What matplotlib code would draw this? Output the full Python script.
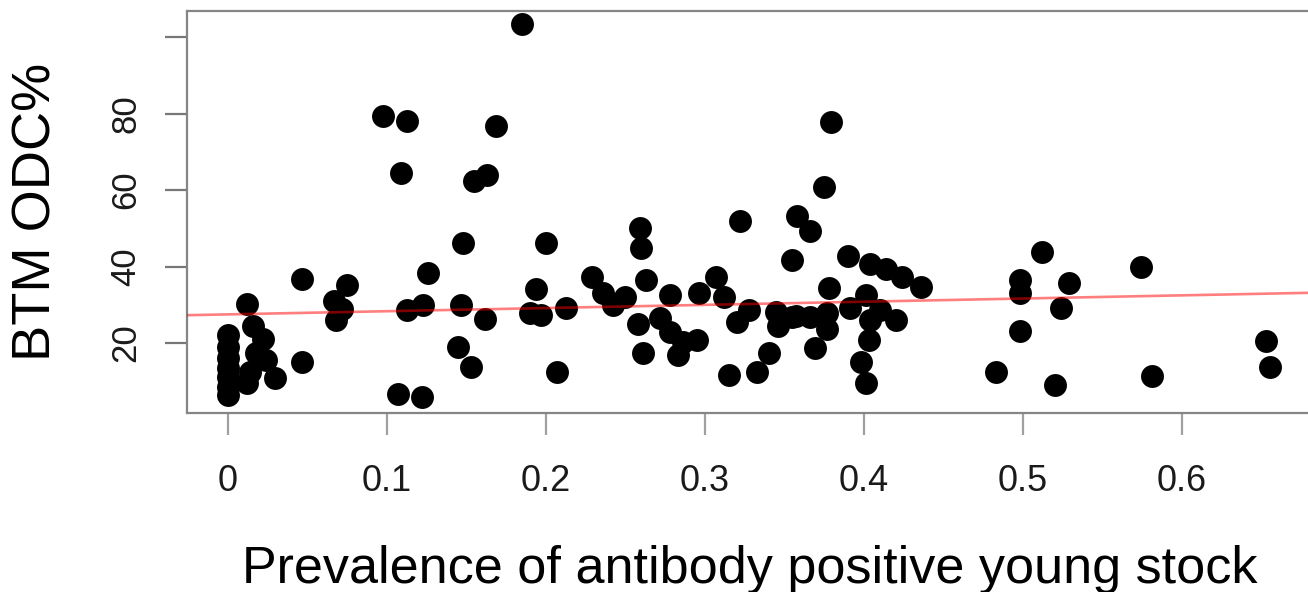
import matplotlib
matplotlib.use("Agg")
import matplotlib.pyplot as plt
import numpy as np

plt.rcParams['font.family'] = ['Liberation Sans', 'DejaVu Sans']

# prevalence of antibody positive young stock (x) and BTM ODC% (y)
prevalence = [
    0, 0, 0, 0, 0, 0, 0,
    0.012, 0.016, 0.022, 0.018, 0.024, 0.014, 0.012, 0.030,
    0.047, 0.047,
    0.075, 0.067, 0.072, 0.068,
    0.098, 0.113, 0.109, 0.107, 0.122,
    0.113, 0.123, 0.126,
    0.147, 0.148, 0.145, 0.153, 0.155, 0.163, 0.162, 0.169,
    0.185, 0.194, 0.190, 0.197, 0.200, 0.207, 0.213,
    0.229, 0.236, 0.242, 0.250, 0.263, 0.259, 0.260, 0.258, 0.261, 0.272,
    0.278, 0.278, 0.283, 0.286, 0.295, 0.296, 0.307, 0.312, 0.315, 0.320,
    0.322, 0.328, 0.333, 0.340, 0.345, 0.346,
    0.355, 0.358, 0.366, 0.355, 0.357, 0.366, 0.377, 0.369, 0.378, 0.379,
    0.375, 0.377,
    0.390, 0.391, 0.401, 0.404, 0.410, 0.420, 0.403, 0.398, 0.401,
    0.404, 0.414, 0.424, 0.436,
    0.498, 0.498, 0.512, 0.529, 0.524, 0.498, 0.483, 0.520,
    0.574, 0.581, 0.653, 0.655,
]
btm_odc = [
    22.0, 19.0, 16.0, 13.5, 11.0, 8.5, 6.5,
    30.2, 24.5, 21.0, 17.5, 15.5, 12.5, 9.5, 10.8,
    36.8, 15.0,
    35.2, 31.1, 29.0, 26.0,
    79.3, 78.1, 64.5, 6.6, 5.8,
    28.6, 29.9, 38.4,
    29.9, 46.1, 19.0, 13.8, 62.4, 63.9, 26.3, 76.9,
    103.4, 34.2, 27.8, 27.3, 46.2, 12.5, 29.1,
    37.3, 33.0, 29.9, 32.1, 36.5, 50.1, 44.8, 25.1, 17.3, 26.5,
    32.5, 23.0, 16.9, 20.3, 20.8, 33.0, 37.3, 32.1, 11.6, 25.6,
    52.0, 28.6, 12.5, 17.3, 28.0, 24.5,
    41.7, 53.2, 49.3, 26.9, 27.0, 26.9, 27.8, 18.6, 34.3, 77.7,
    60.7, 23.8,
    42.7, 29.1, 32.5, 26.0, 28.6, 26.0, 20.8, 15.1, 9.5,
    40.8, 39.5, 37.3, 34.7,
    36.5, 33.0, 43.7, 35.6, 29.3, 23.1, 12.5, 9.0,
    39.9, 11.4, 20.6, 13.8,
]

# fitted regression line (red)
fit_intercept = 27.5
fit_slope = 8.3

x_ticks = [0, 0.1, 0.2, 0.3, 0.4, 0.5, 0.6]
x_labels = ["0", "0.1", "0.2", "0.3", "0.4", "0.5", "0.6"]
y_ticks = [20, 40, 60, 80, 100]
y_labels = ["20", "40", "60", "80", ""]

fig = plt.figure(figsize=(13.08, 5.92), dpi=100)
ax = fig.add_axes([187/1308, 179/592, (1319-187)/1308, (413-10.5)/592])

ax.plot(prevalence, btm_odc, 'o', color='black', markersize=16.5, markeredgewidth=0, zorder=2)

xlim = (-0.0255, 0.686)
xl = np.array(xlim)
ax.plot(xl, fit_intercept + fit_slope*xl, color=(1, 0, 0, 0.5), linewidth=1.9, zorder=3)

ax.set_xlim(*xlim)
ax.set_ylim(1.7, 107.0)

for s in ['top', 'bottom', 'left', 'right']:
    ax.spines[s].set_color('#858585')
    ax.spines[s].set_linewidth(1.6)

ax.set_xticks(x_ticks)
ax.set_xticklabels(x_labels, fontsize=26, color='#1a1a1a')
ax.set_yticks(y_ticks)
ax.set_yticklabels(y_labels, fontsize=25, color='#1a1a1a', rotation=90, va='center')
ax.tick_params(axis='x', length=16, width=1.6, color='#a0a0a0', pad=21)
ax.tick_params(axis='y', length=16, width=1.6, color='#777777', pad=16)

fig.text(37/1308, 1-211.5/592, "BTM ODC%", rotation=90, ha='center', va='center', fontsize=39)
fig.text(750/1308, (592-583)/592, "Prevalence of antibody positive young stock",
         ha='center', va='baseline', fontsize=37.5)

fig.savefig("out.png", dpi=100)
